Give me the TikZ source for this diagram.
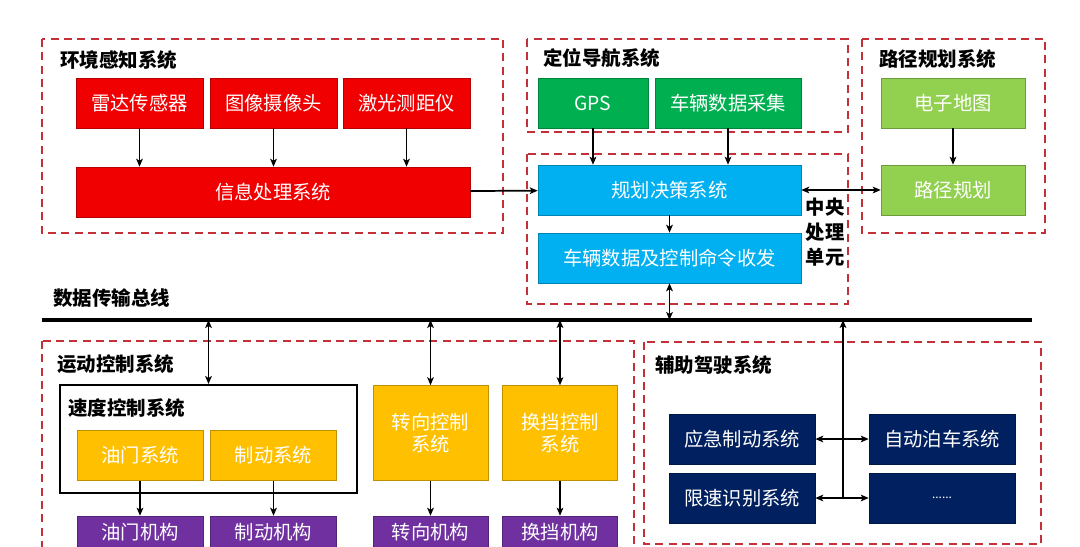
\documentclass[tikz,border=0pt]{standalone}
\usepackage{fontspec}
\setmainfont{Noto Sans CJK SC}
\usetikzlibrary{arrows.meta}
\definecolor{dashred}{RGB}{196,48,56}
\definecolor{cred}{RGB}{240,0,0}
\definecolor{cgreen}{RGB}{0,176,80}
\definecolor{clgreen}{RGB}{146,208,80}
\definecolor{cblue}{RGB}{0,176,240}
\definecolor{cyellow}{RGB}{255,192,0}
\definecolor{cpurple}{RGB}{112,48,160}
\definecolor{cnavy}{RGB}{0,32,96}
\begin{document}
\begin{tikzpicture}[x=0.75pt,y=-0.75pt,
  region/.style={draw=dashred,line width=1.8pt,dash pattern=on 6pt off 4pt},
  blk/.style={draw=#1!75!black,fill=#1,text=white,inner sep=0pt,minimum height=37.5pt,font=\fontsize{14.5}{17}\selectfont},
  ttl/.style={anchor=west,inner sep=0pt,font=\fontsize{14.6}{17}\selectfont\bfseries},
  arr/.style={-{Stealth[length=6pt,width=5pt,inset=1.5pt]},line width=1.3pt},
  darr/.style={{Stealth[length=6pt,width=5pt,inset=1.5pt]}-{Stealth[length=6pt,width=5pt,inset=1.5pt]},line width=1.3pt}]
\useasboundingbox (0,0) rectangle (1080,546);
\clip (0,0) rectangle (1080,546);
\fill[white] (0,0) rectangle (1080,546);
% dashed system frames
\draw[region] (42,39) rectangle (503,233);
\draw[region] (527,39) rectangle (848,132);
\draw[region] (527,154) rectangle (848,304);
\draw[region] (862,39) rectangle (1045,233);
\draw[region] (42,341) rectangle (634,600);
\draw[region] (644,342) rectangle (1041,544);
\node[ttl] (tenv) at (60,60) {环境感知系统};
\node[ttl] (tnav) at (543,58) {定位导航系统};
\node[ttl] (tpath) at (879,59) {路径规划系统};
\node[ttl] (tbus) at (53,298) {数据传输总线};
\node[ttl] (tmove) at (57,364) {运动控制系统};
\node[ttl] (tassist) at (655,365) {辅助驾驶系统};
\node[align=center,inner sep=0pt,font=\fontsize{14.5}{18.5}\selectfont\bfseries] (tcpu) at (825,232) {中央\\处理\\单元};
% sensing
\node[blk=cred,minimum width=95.25pt] (radar) at (139.5,103) {雷达传感器};
\node[blk=cred,minimum width=95.25pt] (cam) at (273.5,103) {图像摄像头};
\node[blk=cred,minimum width=95.25pt] (laser) at (406.5,103) {激光测距仪};
\node[blk=cred,minimum width=295.5pt] (info) at (273,192) {信息处理系统};
% navigation and planning
\node[blk=cgreen,minimum width=82.5pt] (gps) at (593,103) {GPS};
\node[blk=cgreen,minimum width=109.5pt] (vdata) at (728,103) {车辆数据采集};
\node[blk=cblue,minimum width=197.25pt] (plan) at (669.5,190) {规划决策系统};
\node[blk=cblue,minimum width=197.25pt] (cmd) at (669.5,258) {车辆数据及控制命令收发};
\node[blk=clgreen,minimum width=108pt] (map) at (953,103) {电子地图};
\node[blk=clgreen,minimum width=108pt] (route) at (953,190) {路径规划};
% motion control
\node[draw,line width=1.5pt,minimum width=222.75pt,minimum height=81pt] (speed) at (208.5,439) {};
\node[ttl] (tspeed) at (68,408) {速度控制系统};
\node[blk=cyellow,minimum width=94.5pt] (thr) at (140,455.5) {油门系统};
\node[blk=cyellow,minimum width=94.5pt] (brk) at (273.5,455.5) {制动系统};
\node[blk=cyellow,minimum width=86.25pt,minimum height=71.25pt,align=center] (steer) at (430.5,433) {转向控制\\系统};
\node[blk=cyellow,minimum width=86.25pt,minimum height=71.25pt,align=center] (gear) at (560,433) {换挡控制\\系统};
\node[blk=cpurple,minimum width=94.5pt,minimum height=24pt] (thra) at (140,532) {油门机构};
\node[blk=cpurple,minimum width=94.5pt,minimum height=24pt] (brka) at (273.5,532) {制动机构};
\node[blk=cpurple,minimum width=86.25pt,minimum height=24pt] (steera) at (430.5,532) {转向机构};
\node[blk=cpurple,minimum width=86.25pt,minimum height=24pt] (geara) at (560,532) {换挡机构};
% driver assistance
\node[blk=cnavy,minimum width=109.5pt] (aeb) at (742,439) {应急制动系统};
\node[blk=cnavy,minimum width=109.5pt] (park) at (942,439) {自动泊车系统};
\node[blk=cnavy,minimum width=109.5pt] (limit) at (742,498) {限速识别系统};
\node[blk=cnavy,minimum width=109.5pt,font=\fontsize{9}{10}\selectfont] (more) at (942,498) {......};
% bus
\coordinate (busl) at (42,320);
\coordinate (busr) at (1032,320);
\coordinate (hub) at (843,498);
\draw[line width=3pt] (busl) -- (busr);
% connectors
\draw[arr] (radar) -- (radar |- info.north);
\draw[arr] (cam) -- (cam |- info.north);
\draw[arr] (laser) -- (laser |- info.north);
\draw[arr] (info) -- (plan);
\draw[arr] (gps) -- (gps |- plan.north);
\draw[arr] (vdata) -- (vdata |- plan.north);
\draw[arr] (map) -- (route);
\draw[darr] (plan) -- (route);
\draw[arr] (plan) -- (cmd);
\draw[darr] (cmd) -- (cmd |- busl);
\draw[darr] (speed.north |- busl) -- (speed.north);
\draw[darr] (steer |- busl) -- (steer);
\draw[darr] (gear |- busl) -- (gear);
\draw[arr] (thr) -- (thra);
\draw[arr] (brk) -- (brka);
\draw[arr] (steer) -- (steera);
\draw[arr] (gear) -- (geara);
\draw[arr] (hub) -- (hub |- busl);
\draw[darr] (aeb) -- (park);
\draw[darr] (limit) -- (more);
\end{tikzpicture}
\end{document}
